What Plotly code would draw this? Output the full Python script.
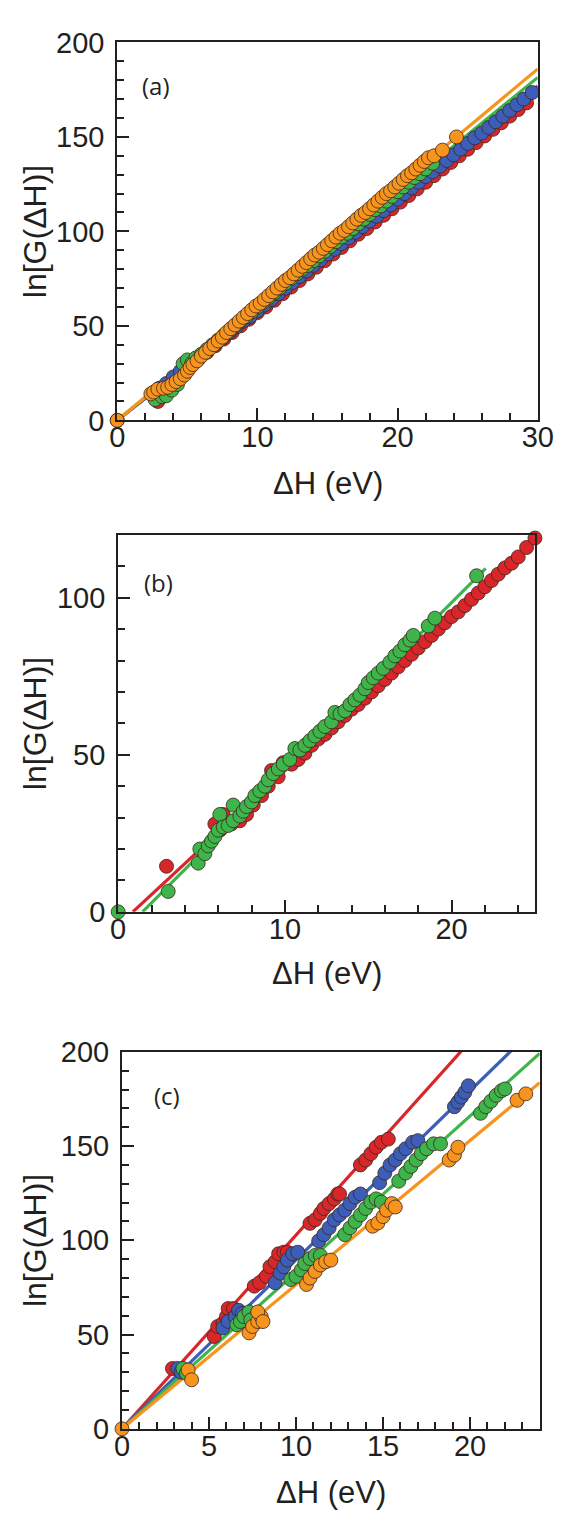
import plotly.graph_objects as go

# ---------------- colours ----------------
series_names = ["red", "blue", "green", "orange"]
series_colors = ["#d9262b", "#3c5db8", "#3db54a", "#f7941e"]
edge_color = "rgba(60,40,30,0.9)"

# ---------------- panel (a) data ----------------
a_red_x = [2.9, 3.4, 4.0, 4.6, 5.2, 5.8, 6.4, 7.0, 7.6, 8.2, 8.8, 9.4, 10.0, 10.6, 11.2, 11.8, 12.4, 13.0, 13.6,
           14.2, 14.8, 15.4, 16.0, 16.6, 17.2, 17.8, 18.4, 19.0, 19.6, 20.2, 20.8, 21.4, 22.0, 22.6, 23.2, 23.8,
           24.4, 25.0, 25.6, 26.2, 26.8, 27.4, 28.0, 28.6, 29.2]
a_red_y = [10, 15, 22, 25.5, 29, 32.5, 36, 39.5, 43, 46.5, 50, 53.5, 57, 60, 63.5, 67, 70.5, 74, 77.5, 81, 84.5,
           88, 91.5, 95, 98.5, 101.5, 105, 108.5, 112, 115.5, 119, 122.5, 126, 129.5, 133, 136.5, 140, 143.5, 147,
           150.5, 154, 157.5, 161, 164.5, 168]

a_blue_x = [2.6, 3.0, 3.5, 4.0, 4.5, 5.0, 5.5, 6.0, 6.5, 7.0, 7.5, 8.0, 8.5, 9.0, 9.5, 10.0, 10.5, 11.0, 11.5,
            12.0, 12.5, 13.0, 13.5, 14.0, 14.5, 15.0, 15.5, 16.0, 16.5, 17.0, 17.5, 18.0, 18.5, 19.0, 19.5, 20.0,
            20.5, 21.0, 21.5, 22.0, 22.5, 23.0, 23.5, 24.0, 24.5, 25.0, 25.5, 26.0, 26.5, 27.0, 27.5, 28.0, 28.5,
            29.0, 29.6]
a_blue_y = [14.5, 17, 19.5, 23, 26, 29, 31.5, 34.5, 37.5, 40.5, 43.5, 46.5, 49.5, 52.5, 55, 58, 61, 64, 67, 70,
            73, 76, 79, 82, 85, 88, 90.5, 93.5, 96.5, 99.5, 102.5, 105.5, 108, 111, 114, 117, 120, 123, 126, 129,
            131.5, 134.5, 137.5, 140.5, 143.5, 146.5, 149.5, 152, 155, 158, 161, 164, 167, 170, 173.5]

a_green_x = [0, 2.7, 3.2, 3.5, 3.9, 4.3, 4.7, 5.0, 5.3, 5.6, 6.0, 6.4, 6.8, 7.2, 7.6, 8.0, 8.4, 8.8, 9.2, 9.6,
             10.0, 10.4, 10.8, 11.2, 11.6, 12.0, 12.4, 12.8, 13.2, 13.6, 14.0, 14.4, 14.8, 15.2, 15.6, 16.0, 16.4,
             16.8, 17.2, 17.6, 18.0, 18.4, 18.8, 19.2, 19.6, 20.0, 20.4, 20.8, 21.2, 21.6, 22.0, 22.5]
a_green_y = [0, 11, 12.5, 13, 16, 19, 30, 32, 30, 33, 35, 37.5, 40, 42.5, 45, 47.5, 50, 52.5, 55, 57.5, 60, 62.5,
             65, 67.5, 70, 72.5, 75, 77.5, 80, 82, 84.5, 87, 89.5, 92, 94.5, 97, 99, 101.5, 104, 106.5, 109, 111.5,
             113.5, 116, 118.5, 121, 123.5, 126, 128.5, 130.5, 133, 136]

a_orange_x = [0, 2.4, 2.6, 2.9, 3.3, 3.6, 3.9, 4.2, 4.5, 4.8, 5.0, 5.2, 5.4, 5.7, 6.0, 6.3, 6.6, 6.9, 7.2, 7.5,
              7.8, 8.1, 8.4, 8.7, 9.0, 9.3, 9.6, 9.9, 10.2, 10.5, 10.8, 11.1, 11.4, 11.7, 12.0, 12.3, 12.6, 12.9,
              13.2, 13.5, 13.8, 14.1, 14.4, 14.7, 15.0, 15.3, 15.6, 15.9, 16.2, 16.5, 16.8, 17.1, 17.4, 17.7, 18.0,
              18.3, 18.6, 18.9, 19.2, 19.5, 19.8, 20.1, 20.4, 20.7, 21.0, 21.3, 21.6, 21.9, 22.2, 22.6, 23.2, 24.2]
a_orange_y = [0, 14, 15, 16.5, 17, 17.5, 19, 20.5, 22, 24, 26, 28, 29.5, 31.5, 34, 36, 38, 40, 42, 44, 46.5, 48.5,
              50.5, 52.5, 54.5, 56.5, 58.5, 60.5, 62, 64, 66, 68, 70, 72, 74, 75.5, 77.5, 79.5, 81.5, 83.5, 85.5,
              87.5, 89, 91, 93, 95, 97, 99, 100.5, 102.5, 104.5, 106.5, 108.5, 110, 112, 114, 116, 118, 120, 121.5,
              123.5, 125.5, 127.5, 129.5, 131, 133, 135, 137, 139, 140, 143, 150]

a_fit_slope = [5.8, 5.9, 6.05, 6.2]
a_fit_intercept = [0.0, 0.0, 0.0, 0.0]
a_fit_xmin = [0, 0, 0, 0]
a_fit_xmax = [30, 30, 30, 30]

# ---------------- panel (b) data ----------------
b_red_x = [2.9, 5.8, 6.1, 6.3, 6.8, 7.3, 7.7, 8.1, 8.6, 9.0, 9.2, 9.6, 9.9, 10.4, 10.8, 11.2, 11.6, 12.0, 12.4,
           12.8, 13.2, 13.6, 14.0, 14.4, 14.8, 15.2, 15.6, 16.0, 16.4, 16.8, 17.2, 17.6, 18.0, 18.4, 18.8, 19.2,
           19.6, 20.0, 20.4, 20.8, 21.2, 21.6, 22.0, 22.4, 22.8, 23.2, 23.6, 24.0, 24.5, 25.0]
b_red_y = [14.5, 28, 26, 31, 28, 29, 31, 34, 37, 40, 45, 43, 47.5, 47, 48.5, 50.5, 53, 55, 56.5, 58.5, 60.5, 62.5,
           64.5, 66, 68, 70, 72, 74, 76, 78, 80, 82, 84, 86, 88, 90, 92, 94, 95.5, 97.5, 99.5, 101.5, 103.5, 105.5,
           107.5, 109.5, 111, 113, 116, 119]

b_green_x = [0, 3.0, 4.8, 4.9, 5.2, 5.4, 5.6, 5.8, 6.0, 6.1, 6.3, 6.6, 6.9, 6.9, 7.3, 7.5, 7.7, 8.0, 8.2, 8.5, 8.8,
             9.0, 9.3, 9.6, 9.9, 10.3, 10.6, 10.9, 11.2, 11.5, 11.8, 12.1, 12.4, 12.8, 13.0, 13.3, 13.6, 13.9, 14.2,
             14.5, 14.8, 15.0, 15.3, 15.6, 15.9, 16.3, 16.6, 16.9, 17.2, 17.5, 17.7, 18.6, 19.0, 21.5]
b_green_y = [0, 6.5, 15.5, 20, 18.5, 21, 22.5, 24, 26, 31, 27, 27.5, 29, 34, 30.5, 32, 33.5, 35, 37, 38.5, 40, 42,
             44, 45.5, 47, 48.5, 52, 51.5, 53, 54.5, 56, 57.5, 59, 60.5, 63.5, 63, 64, 66, 67.5, 69, 71, 73, 74.5,
             76, 77.5, 79.5, 81.5, 83, 85, 86.5, 88, 91, 93.5, 107]

b_fit_slope = [4.93, 5.31]
b_fit_intercept = [-4.34, -7.75]
b_fit_xmin = [0.88, 1.46]
b_fit_xmax = [25.0, 22.05]

# ---------------- panel (c) data ----------------
c_red_x = [2.9, 3.3, 5.3, 5.5, 5.8, 6.0, 6.1, 6.4, 6.5, 7.6, 7.9, 8.3, 8.5, 8.8, 9.0, 9.3, 9.5, 10.8, 11.1, 11.4,
           11.6, 11.9, 12.2, 12.4, 12.5, 13.7, 14.0, 14.3, 14.6, 14.9, 15.3]
c_red_y = [32, 31, 49, 54.3, 56, 59.5, 63.8, 63.8, 59.5, 75.7, 77.5, 80.9, 86, 88.6, 92.9, 93.7, 93.7, 109, 110.9,
           114.3, 116.9, 119.5, 122, 124.6, 124.6, 140, 142.6, 146, 149.4, 152, 153.7]

c_blue_x = [3.2, 3.4, 5.8, 6.1, 6.5, 6.7, 6.9, 8.8, 9.1, 9.3, 9.5, 9.8, 10.1, 11.3, 11.6, 11.9, 12.2, 12.5, 12.8,
            13.1, 13.4, 13.7, 14.8, 15.1, 15.4, 15.7, 16.0, 16.3, 16.7, 17.0, 19.1, 19.3, 19.5, 19.7, 19.9]
c_blue_y = [32, 30, 53.5, 57, 59.5, 62.9, 61.2, 77.5, 82.6, 86, 89.5, 92.9, 93.7, 99.7, 103, 106.6, 110.9, 113.5,
            116, 119.5, 122.9, 124.6, 130.6, 135.7, 140, 142.6, 146, 148.6, 152, 152.9, 170.9, 173.4, 176, 178.6,
            182]

c_green_x = [3.5, 3.7, 6.6, 6.8, 7.0, 7.3, 7.4, 9.7, 10.0, 10.3, 10.5, 10.8, 11.1, 11.4, 12.8, 13.1, 13.4, 13.7,
             14.0, 14.3, 14.6, 14.9, 15.9, 16.3, 16.6, 16.9, 17.2, 17.5, 17.9, 18.3, 20.6, 20.9, 21.2, 21.5, 21.8,
             22.0]
c_green_y = [32, 29.5, 55.2, 56.9, 59.5, 62, 57.8, 79.2, 80.9, 84.3, 87.7, 90.3, 92, 92, 103, 106.6, 110, 113.5,
             116.9, 120.3, 122, 120.3, 131.4, 135.7, 139.2, 142.6, 146, 148.6, 151.2, 151.2, 167.4, 170.9, 173.8,
             176.9, 179.4, 180.3]

c_orange_x = [0, 3.8, 4.0, 7.3, 7.5, 7.8, 8.0, 7.8, 8.1, 10.6, 10.8, 11.1, 11.4, 11.7, 12.0, 14.4, 14.7, 15.0, 15.2,
              15.5, 15.7, 18.8, 19.1, 19.3, 22.7, 23.2]
c_orange_y = [0, 31.2, 26, 50.9, 54.3, 56.9, 59.5, 62, 56.9, 76.6, 80, 83.5, 86.9, 88.6, 89.5, 107.5, 109.2, 112.6,
              116, 119.5, 117.7, 142.6, 145.2, 149.4, 174.3, 177.7]

c_fit_slope = [10.28, 8.97, 8.3, 7.65]
c_fit_intercept = [0.0, 0.0, 0.0, 0.0]
c_fit_xmin = [0, 0, 0, 0]
c_fit_xmax = [24, 24, 24, 24]

# ---------------- axis ranges / ticks ----------------
x_ranges = [[0, 30], [0, 25], [0, 24]]
y_ranges = [[0, 200], [0, 120], [0, 200]]
x_dticks = [10, 10, 5]
x_minor = [2, 2, 1]
y_dticks = [50, 50, 50]
y_minor = [10, 10, 10]
panel_labels = ["(a)", "(b)", "(c)"]
x_title = "ΔH (eV)"
y_title = "ln[G(ΔH)]"

W, H = 572, 1529
# plot boxes in pixels: left, right, top, bottom
boxes = [(114, 553, 27, 413), (115, 550, 530, 915), (119, 555, 1058, 1443)]
label_pos = [(155, 71), (157, 579), (166, 1103)]
xtitle_y = [477, 978, 1508]

fig = go.Figure()

panel_data = [
    ([a_red_x, a_blue_x, a_green_x, a_orange_x], [a_red_y, a_blue_y, a_green_y, a_orange_y],
     [0, 1, 2, 3], a_fit_slope, a_fit_intercept, a_fit_xmin, a_fit_xmax),
    ([b_red_x, b_green_x], [b_red_y, b_green_y], [0, 2], b_fit_slope, b_fit_intercept, b_fit_xmin, b_fit_xmax),
    ([c_red_x, c_blue_x, c_green_x, c_orange_x], [c_red_y, c_blue_y, c_green_y, c_orange_y],
     [0, 1, 2, 3], c_fit_slope, c_fit_intercept, c_fit_xmin, c_fit_xmax),
]

for p, (xs, ys, cidx, slopes, icpts, xmins, xmaxs) in enumerate(panel_data):
    xa = "x" if p == 0 else f"x{p+1}"
    ya = "y" if p == 0 else f"y{p+1}"
    for k, ci in enumerate(cidx):
        lx = [xmins[k], xmaxs[k]]
        ly = [slopes[k] * v + icpts[k] for v in lx]
        fig.add_trace(go.Scatter(x=lx, y=ly, mode="lines", xaxis=xa, yaxis=ya,
                                 line=dict(color=series_colors[ci], width=3.2), showlegend=False,
                                 hoverinfo="skip"))
    for k, ci in enumerate(cidx):
        fig.add_trace(go.Scatter(x=xs[k], y=ys[k], mode="markers", xaxis=xa, yaxis=ya,
                                 marker=dict(color=series_colors[ci], size=14,
                                             line=dict(color=edge_color, width=0.9)),
                                 cliponaxis=False, showlegend=False,
                                 name=series_names[ci]))

axis_color = "#231f20"
font_family = "Liberation Sans, Arial, sans-serif"
tick_font = dict(family=font_family, size=29, color=axis_color)
layout = dict(width=W, height=H, margin=dict(l=0, r=0, t=0, b=0),
              paper_bgcolor="white", plot_bgcolor="white", showlegend=False)

annotations = []
for p in range(3):
    l, r, t, b = boxes[p]
    xkey = "xaxis" if p == 0 else f"xaxis{p+1}"
    ykey = "yaxis" if p == 0 else f"yaxis{p+1}"
    xa = "x" if p == 0 else f"x{p+1}"
    ya = "y" if p == 0 else f"y{p+1}"
    layout[xkey] = dict(domain=[l / W, r / W], anchor=ya, range=x_ranges[p], dtick=x_dticks[p], tick0=0,
                        showgrid=False, zeroline=False, showline=True, linecolor=axis_color, linewidth=2,
                        mirror=True, ticks="inside", ticklen=12, tickwidth=2, tickcolor=axis_color,
                        minor=dict(dtick=x_minor[p], tick0=0, ticks="inside", ticklen=7, tickwidth=2,
                                   tickcolor=axis_color, showgrid=False),
                        tickfont=tick_font, ticklabelstandoff=-10)
    layout[ykey] = dict(domain=[1 - b / H, 1 - t / H], anchor=xa, range=y_ranges[p], dtick=y_dticks[p], tick0=0,
                        showgrid=False, zeroline=False, showline=True, linecolor=axis_color, linewidth=2,
                        mirror=True, ticks="inside", ticklen=12, tickwidth=2, tickcolor=axis_color,
                        minor=dict(dtick=y_minor[p], tick0=0, ticks="inside", ticklen=7, tickwidth=2,
                                   tickcolor=axis_color, showgrid=False),
                        tickfont=tick_font, ticklabelstandoff=5)
    annotations.append(dict(text=x_title, x=(l + r) / 2 / W, y=1 - xtitle_y[p] / H, xref="paper", yref="paper",
                            xanchor="center", yanchor="middle", showarrow=False,
                            font=dict(family=font_family, size=31, color=axis_color)))
    annotations.append(dict(text=y_title, x=29 / W, y=1 - (t + b) / 2 / H, xref="paper", yref="paper",
                            xanchor="center", yanchor="middle", showarrow=False, textangle=-90,
                            font=dict(family=font_family, size=32, color=axis_color)))
    lx, ly = label_pos[p]
    annotations.append(dict(text=panel_labels[p], x=lx / W, y=1 - ly / H, xref="paper", yref="paper",
                            xanchor="center", yanchor="middle", showarrow=False,
                            font=dict(family="Open Sans, sans-serif", size=24, color=axis_color)))

layout["annotations"] = annotations
fig.update_layout(**layout)
fig.write_html("out.html")
